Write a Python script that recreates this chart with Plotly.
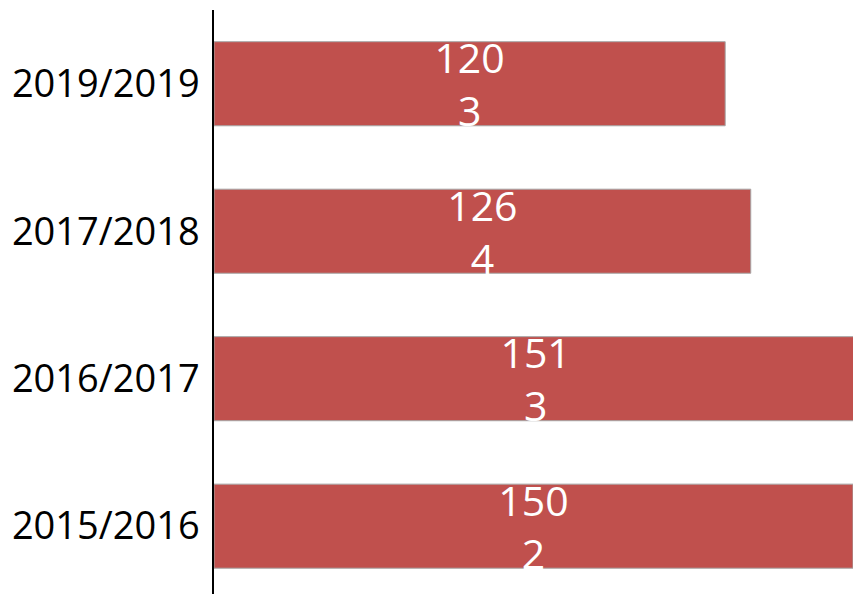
import plotly.graph_objects as go

categories = ["2015/2016", "2016/2017", "2017/2018", "2019/2019"]
values = [150, 151, 126, 120]
counts = [2, 3, 4, 3]

labels = [f"{v}<br>{c}" for v, c in zip(values, counts)]

fig = go.Figure(
    go.Bar(
        x=values,
        y=categories,
        orientation="h",
        text=labels,
        textposition="inside",
        insidetextanchor="middle",
        constraintext="none",
        textangle=0,
        textfont=dict(family="Open Sans", size=41, color="white"),
        marker=dict(color="#C0504D", line=dict(color="#A6A6A6", width=1)),
        hoverinfo="skip",
    )
)

fig.update_layout(
    width=853,
    height=594,
    margin=dict(l=214, r=0, t=10, b=0, autoexpand=False),
    paper_bgcolor="white",
    plot_bgcolor="white",
    bargap=0.43,
    showlegend=False,
    font=dict(family="Open Sans", color="black"),
)
fig.update_xaxes(range=[0, 150], visible=False, showgrid=False, zeroline=False)
fig.update_yaxes(
    type="category",
    categoryorder="array",
    categoryarray=categories,
    range=[-0.46, 3.5],
    showline=True,
    linecolor="black",
    linewidth=1.5,
    ticks="",
    showgrid=False,
    zeroline=False,
    automargin=False,
    ticklabelstandoff=5,
    tickfont=dict(family="Open Sans", size=38, color="black"),
)

fig.write_html(
    "out.html",
    config={"displayModeBar": False},
    post_script="document.body.style.margin='0';document.body.style.padding='0';document.body.style.overflow='hidden';",
)
